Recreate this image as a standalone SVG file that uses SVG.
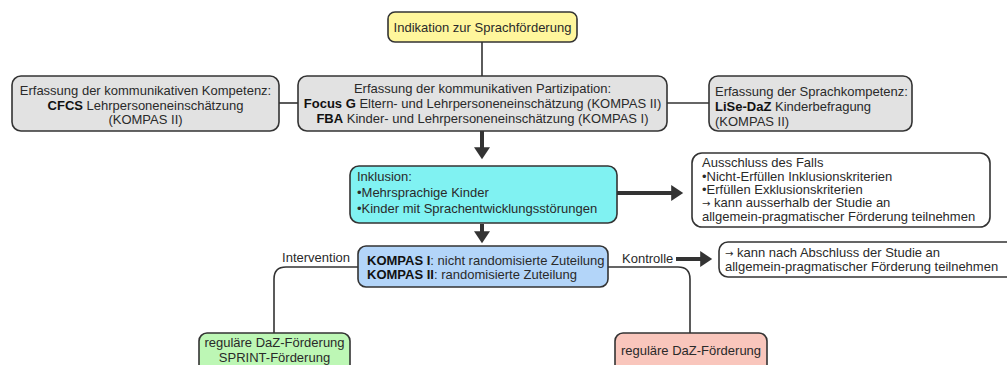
<svg xmlns="http://www.w3.org/2000/svg" width="1007" height="365" viewBox="0 0 1007 365">
<style>
.box{stroke:#333;stroke-width:1.6}
text{font-family:"Liberation Sans",Arial,sans-serif;font-size:13px;fill:#2a2a2a}
.b{font-weight:bold;fill:#111}
.ar{font-family:"DejaVu Sans",sans-serif;font-size:10px}
.ln{stroke:#333;stroke-width:1.6;fill:none}
.th{stroke:#333;stroke-width:4;fill:none}
</style>
<defs>
<marker id="ah" markerWidth="4" markerHeight="4" refX="2.2" refY="2" orient="auto" markerUnits="strokeWidth">
<path d="M0,0 L3,2 L0,4 Z" fill="#333"/>
</marker>
</defs>
<rect width="1007" height="365" fill="#fff"/>
<g id="connectors">
<path class="ln" d="M482,42 V76"/>
<path class="ln" d="M279,103 H298"/>
<path class="ln" d="M667,103 H709"/>
<path class="th" d="M482,131 V156" marker-end="url(#ah)"/>
<path class="th" d="M617,193 H680" marker-end="url(#ah)"/>
<path class="th" d="M482,224 V240" marker-end="url(#ah)"/>
<path class="ln" d="M358,267 H286 Q274,267 274,279 V333"/>
<path class="ln" d="M608,267 H678 Q690,267 690,279 V333"/>
<path class="th" d="M676,259 H709" marker-end="url(#ah)"/>
<text x="350" y="262" text-anchor="end">Intervention</text>
<text x="622" y="263">Kontrolle</text>
</g>
<g id="n-indikation">
<rect class="box" x="388" y="12" width="189" height="30" rx="7" fill="#FFF69C"/>
<text x="482.5" y="32" text-anchor="middle">Indikation zur Sprachförderung</text>
</g>
<g id="n-kompetenz">
<rect class="box" x="12" y="76" width="267" height="55" rx="9" fill="#E2E2E2"/>
<text x="145.5" y="95" text-anchor="middle">Erfassung der kommunikativen Kompetenz:</text>
<text x="145.5" y="110" text-anchor="middle"><tspan class="b">CFCS</tspan> Lehrpersoneneinschätzung</text>
<text x="145.5" y="124" text-anchor="middle">(KOMPAS II)</text>
</g>
<g id="n-partizipation">
<rect class="box" x="298" y="76" width="369" height="55" rx="9" fill="#E2E2E2"/>
<text x="482.5" y="93" text-anchor="middle">Erfassung der kommunikativen Partizipation:</text>
<text x="482.5" y="108" text-anchor="middle"><tspan class="b">Focus G</tspan> Eltern- und Lehrpersoneneinschätzung (KOMPAS II)</text>
<text x="482.5" y="123" text-anchor="middle"><tspan class="b">FBA</tspan> Kinder- und Lehrpersoneneinschätzung (KOMPAS I)</text>
</g>
<g id="n-sprachkompetenz">
<rect class="box" x="709" y="76" width="203" height="55" rx="9" fill="#E2E2E2"/>
<text x="715" y="96">Erfassung der Sprachkompetenz:</text>
<text x="715" y="111"><tspan class="b">LiSe-DaZ</tspan> Kinderbefragung</text>
<text x="715" y="126">(KOMPAS II)</text>
</g>
<g id="n-inklusion">
<rect class="box" x="350" y="166" width="267" height="57" rx="9" fill="#80F2F2"/>
<text x="357" y="181">Inklusion:</text>
<text x="357" y="197">•Mehrsprachige Kinder</text>
<text x="357" y="213">•Kinder mit Sprachentwicklungsstörungen</text>
</g>
<g id="n-ausschluss">
<rect class="box" x="692" y="153" width="298" height="74" rx="10" fill="#fff"/>
<text x="702" y="167">Ausschluss des Falls</text>
<text x="702" y="181">•Nicht-Erfüllen Inklusionskriterien</text>
<text x="702" y="194">•Erfüllen Exklusionskriterien</text>
<text x="702" y="207"><tspan class="ar">→</tspan> kann ausserhalb der Studie an</text>
<text x="702" y="221">allgemein-pragmatischer Förderung teilnehmen</text>
</g>
<g id="n-zuteilung">
<rect class="box" x="358" y="246" width="250" height="41" rx="8" fill="#B3D5F9"/>
<text x="367" y="265"><tspan class="b">KOMPAS I</tspan>: nicht randomisierte Zuteilung</text>
<text x="367" y="279"><tspan class="b">KOMPAS II</tspan>: randomisierte Zuteilung</text>
</g>
<g id="n-nachabschluss">
<rect class="box" x="719" y="242" width="300" height="35" rx="9" fill="#fff"/>
<text x="725" y="257"><tspan class="ar">→</tspan> kann nach Abschluss der Studie an</text>
<text x="725" y="271">allgemein-pragmatischer Förderung teilnehmen</text>
</g>
<g id="n-intervention">
<rect class="box" x="199" y="333" width="151" height="45" rx="8" fill="#BDF7B5"/>
<text x="274.5" y="347" text-anchor="middle">reguläre DaZ-Förderung</text>
<text x="274.5" y="362" text-anchor="middle">SPRINT-Förderung</text>
</g>
<g id="n-kontrolle">
<rect class="box" x="615" y="333" width="152" height="45" rx="8" fill="#F9C6BC"/>
<text x="691" y="355" text-anchor="middle">reguläre DaZ-Förderung</text>
</g>
</svg>
